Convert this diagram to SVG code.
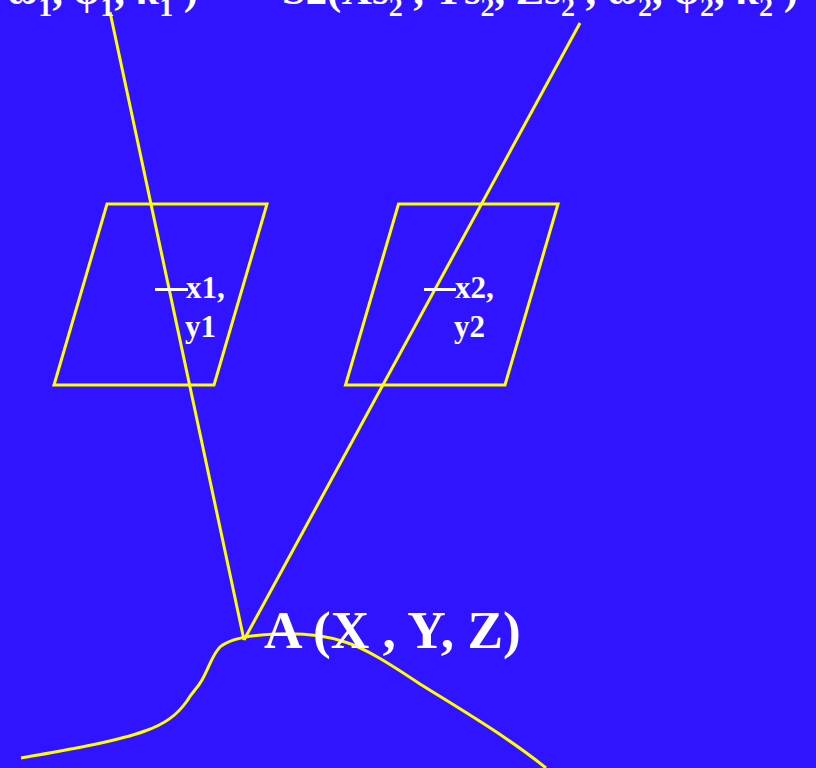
<svg xmlns="http://www.w3.org/2000/svg" width="816" height="768" viewBox="0 0 816 768">
<style>
.l{fill:none;stroke:#ffff00;stroke-width:3}
.w{fill:none;stroke:#fff;stroke-width:3}
text{font-family:"Liberation Serif","Times New Roman",serif;font-weight:bold;fill:#fff}
.t{font-size:42.67px}
.s{font-size:28px}
.a{font-size:53.33px}
.m{font-size:31px}
</style>
<rect width="816" height="768" fill="#3014ff"/>
<g id="connectors">
<path class="l" d="M110 12L244 640"/>
<path class="l" d="M580 23L244 640"/>
<path class="l" d="M21 758C60 751 115 742 145 731C165 724 177 715 187 701C192 692 197 689 202 680C209 668 212 655 220 647C229 639 250 635 275 634C300 633 325 635 345 642C365 648 390 664 420 684C455 706 505 735 546 768"/>
</g>
<g id="frame1"><path class="l" d="M107 204H267L214 385H54Z"/><path class="w" d="M155 289.500H188"/>
<text class="m" x="186" y="298">x1,</text><text class="m" x="185" y="337">y1</text></g>
<g id="frame2"><path class="l" d="M398.500 204H558L505 385H345.500Z"/><path class="w" d="M424 289.500H456"/>
<text class="m" x="455" y="298">x2,</text><text class="m" x="454" y="337">y2</text></g>
<g id="pointA"><text class="a" x="264" y="648">A (X , Y, Z)</text></g>
<g id="S1"><text class="t" x="7" y="4">ω<tspan class="s" dy="12">1</tspan><tspan dy="-12">, φ</tspan><tspan class="s" dy="12">1</tspan><tspan dy="-12">, κ</tspan><tspan class="s" dy="12">1</tspan><tspan dy="-12"> )</tspan></text></g>
<g id="S2"><text class="t" x="282" y="4">S2(Xs<tspan class="s" dy="12">2</tspan><tspan dy="-12"> , Ys</tspan><tspan class="s" dy="12">2</tspan><tspan dy="-12">, Zs</tspan><tspan class="s" dy="12">2</tspan><tspan dy="-12"> , ω</tspan><tspan class="s" dy="12">2</tspan><tspan dy="-12">, φ</tspan><tspan class="s" dy="12">2</tspan><tspan dy="-12">, κ</tspan><tspan class="s" dy="12">2</tspan><tspan dy="-12"> )</tspan></text></g>
</svg>
